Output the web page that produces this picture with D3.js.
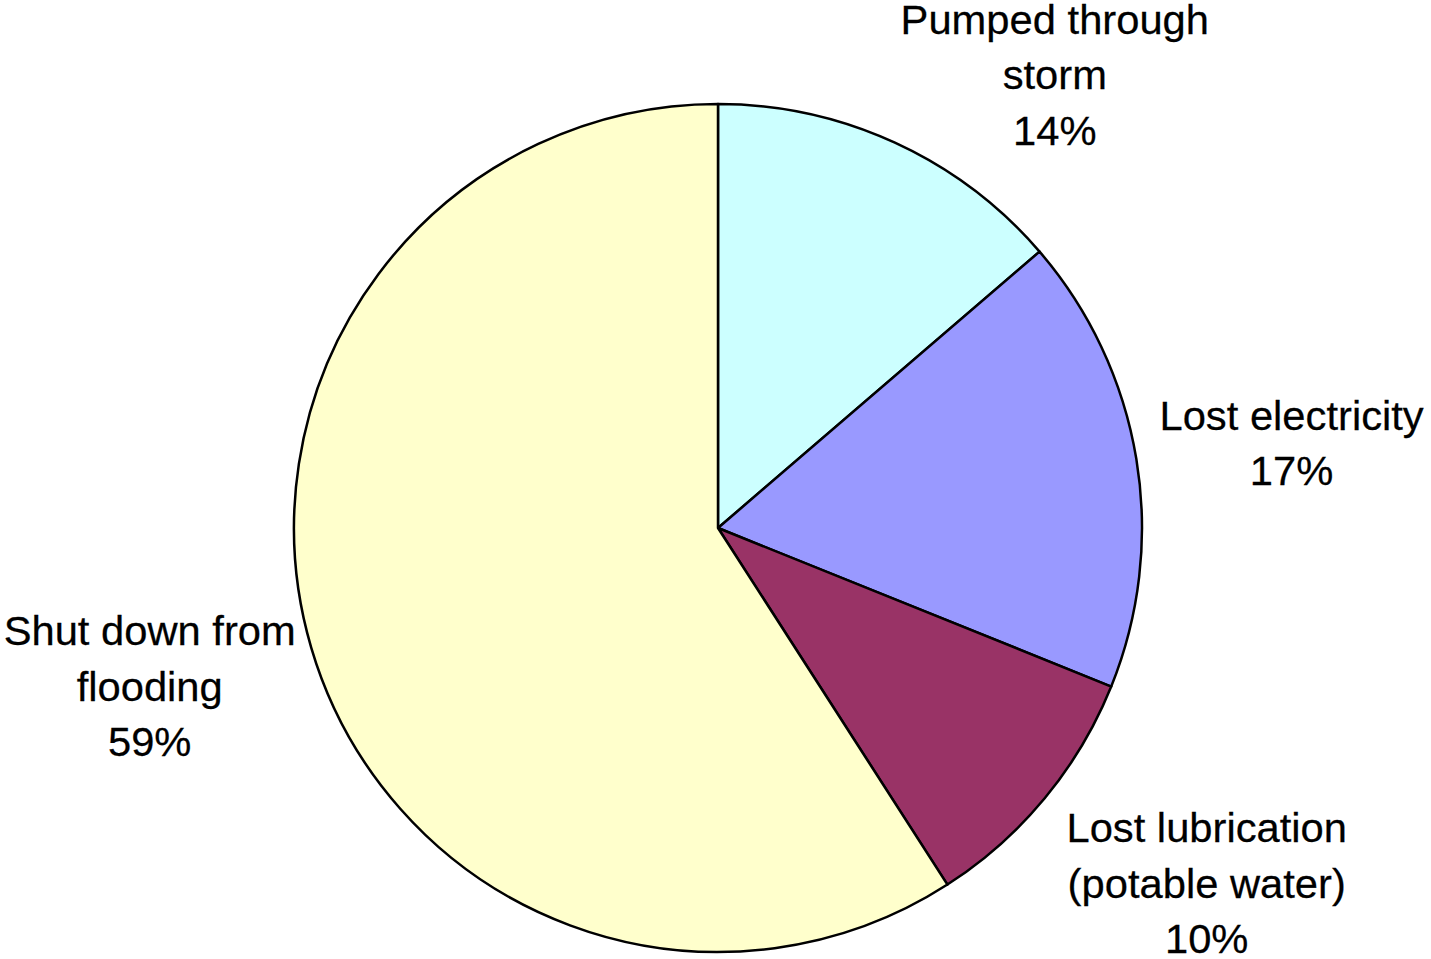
<!DOCTYPE html>
<html>
<head>
<meta charset="utf-8">
<script src="https://cdn.jsdelivr.net/npm/d3@7"></script>
<style>
  body { margin: 0; background: #fff; }
  text { font-family: "Liberation Sans", Arial, sans-serif; fill: #000; stroke: #000; stroke-width: 0.25px; }
</style>
</head>
<body>
<script>
// slice data, clockwise from 12 o'clock
var labels = [["Pumped through", "storm"], ["Lost electricity"], ["Lost lubrication", "(potable water)"], ["Shut down from", "flooding"]];
var values = [13.7, 17.4, 9.8, 59.1];
var colors = ["#CCFFFF", "#9999FF", "#993366", "#FFFFCC"];

var width = 1431, height = 959;
var cx = 718, cy = 528, radius = 424;
var fontSize = 40.5, lineH = 55.5, stretch = 1.03;

var svg = d3.select("body").append("svg")
    .attr("width", width)
    .attr("height", height);

var g = svg.append("g")
    .attr("transform", "translate(" + cx + "," + cy + ")");

var total = d3.sum(values);
var pie = d3.pie().sort(null).value(function(d) { return d; });
var arcs = pie(values);

var arc = d3.arc().innerRadius(0).outerRadius(radius);

g.selectAll(".slice")
    .data(arcs)
  .enter().append("path")
    .attr("class", "slice")
    .attr("d", arc)
    .attr("fill", function(d, i) { return colors[i]; })
    .attr("stroke", "#000")
    .attr("stroke-width", 2.5)
    .attr("stroke-linejoin", "round");

// labels placed outside, box pushed away from the pie
var pad = 10;
var label = g.selectAll(".label")
    .data(arcs)
  .enter().append("g")
    .attr("class", "label");

label.each(function(d, i) {
  var sel = d3.select(this);
  var lines = labels[i].concat([Math.round(d.value / total * 100) + "%"]);
  var inner = sel.append("g");
  lines.forEach(function(t, j) {
    inner.append("text")
      .attr("x", 0)
      .attr("y", (j - (lines.length - 1) / 2) * lineH)
      .attr("dy", "0.35em")
      .attr("text-anchor", "middle")
      .style("font-size", fontSize + "px")
      .text(t);
  });
  var w = d3.max(inner.selectAll("text").nodes(), function(n) { return n.getComputedTextLength(); }) * stretch;
  var h = lines.length * lineH;
  var a = (d.startAngle + d.endAngle) / 2;
  var ax = (radius + pad) * Math.sin(a), ay = -(radius + pad) * Math.cos(a);
  var kx = Math.max(-1, Math.min(1, Math.sin(a) * 2.2)) * (Math.sin(a) > 0 ? 1.1 : 1.04);
  var ky = Math.max(-0.7, Math.min(0.95, -Math.cos(a) * 1.55));
  var x = ax + kx * w / 2, y = ay + ky * h / 2;
  sel.attr("transform", "translate(" + x + "," + y + ")");
  inner.attr("transform", "scale(" + stretch + ",1)");
});
</script>
</body>
</html>
